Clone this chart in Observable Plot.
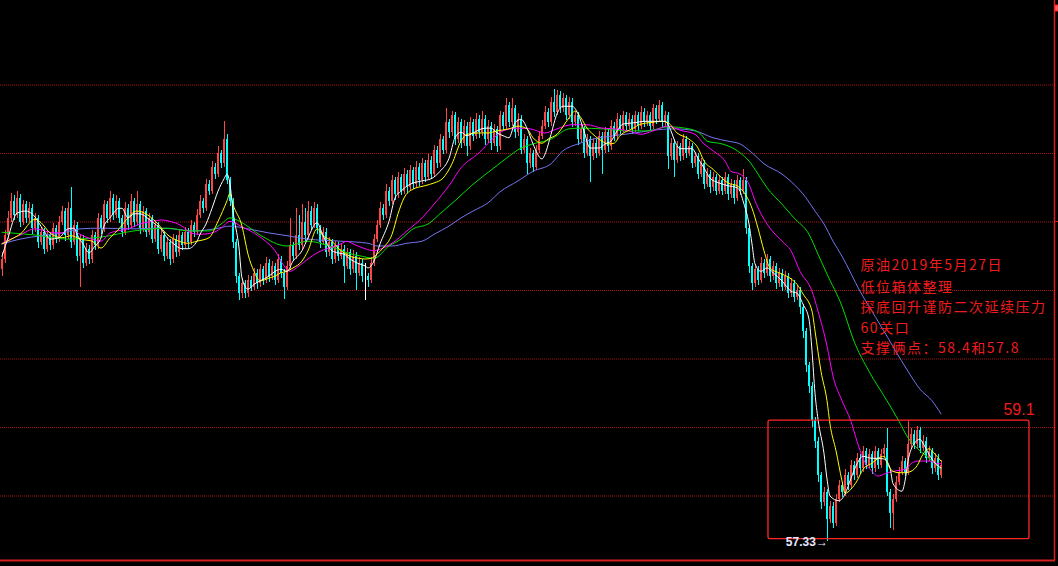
<!DOCTYPE html>
<html><head><meta charset="utf-8">
<script src="https://cdn.jsdelivr.net/npm/d3@7"></script>
<script src="https://cdn.jsdelivr.net/npm/@observablehq/plot@0.6"></script>
<style>
html,body{margin:0;padding:0;background:#000;}
#chart{width:1058px;height:566px;overflow:hidden;background:#000;}
</style></head><body><div id="chart"></div>
<script>
// ---- candle data (hourly crude oil), index = candle position ----
const opens = [61.30,61.45,61.80,62.05,62.30,62.10,62.35,62.00,62.25,62.05,
62.20,61.90,62.05,61.70,61.85,61.60,61.80,61.65,61.90,61.75,
62.00,62.15,61.80,62.20,61.70,61.95,61.50,61.75,61.40,61.60,
61.45,61.80,61.65,62.05,61.90,62.25,62.05,62.35,62.10,62.30,
62.05,61.85,62.20,61.95,62.30,62.00,62.25,61.90,62.15,61.85,
62.05,61.75,61.95,61.60,61.80,61.50,61.70,61.45,61.75,61.55,
61.80,61.65,61.85,61.70,61.95,61.85,62.10,62.30,62.20,62.55,
62.45,62.80,62.70,63.00,62.85,63.20,62.60,62.30,61.70,61.20,
60.95,61.10,60.95,61.15,61.05,61.25,61.10,61.30,61.15,61.40,
61.20,61.35,61.15,61.45,61.25,61.05,61.35,61.65,61.50,61.80,
61.65,62.00,61.80,62.15,61.95,62.20,61.90,61.70,61.85,61.55,
61.70,61.45,61.65,61.50,61.60,61.35,61.55,61.30,61.50,61.25,
61.40,61.20,61.20,61.15,61.40,61.75,61.95,62.20,62.10,62.45,
62.30,62.60,62.40,62.65,62.45,62.70,62.50,62.75,62.55,62.80,
62.60,62.85,62.65,62.90,62.70,63.05,62.85,63.20,63.05,63.45,
63.30,63.55,63.20,63.45,63.15,63.40,63.10,63.45,63.25,63.50,
63.30,63.50,63.20,63.40,63.15,63.35,63.10,63.55,63.40,63.70,
63.45,63.65,63.30,63.50,63.05,63.20,62.85,63.00,62.80,63.05,
63.25,63.40,63.60,63.45,63.75,63.60,63.85,63.65,63.80,63.55,
63.75,63.45,63.55,63.20,63.35,63.00,63.20,62.95,63.15,63.00,
63.25,63.05,63.30,63.10,63.40,63.25,63.50,63.35,63.55,63.40,
63.50,63.35,63.55,63.40,63.60,63.45,63.55,63.40,63.65,63.50,
63.70,63.45,63.55,62.95,63.15,62.90,63.10,62.95,63.20,63.00,
63.10,62.85,62.95,62.70,62.85,62.55,62.70,62.50,62.65,62.45,
62.60,62.45,62.65,62.40,62.55,62.35,62.60,62.45,62.60,61.90,
61.35,61.10,61.30,61.15,61.40,61.25,61.45,61.20,61.35,61.10,
61.25,61.05,61.20,60.95,61.10,60.90,61.00,60.75,60.40,59.90,
59.60,59.10,58.80,58.30,57.90,58.05,57.65,57.85,57.60,57.95,
58.15,58.05,58.30,58.15,58.45,58.30,58.55,58.40,58.65,58.45,
58.60,58.40,58.65,58.45,58.60,58.70,58.05,57.75,57.95,58.20,
58.35,58.50,58.35,58.75,58.90,58.75,58.95,58.70,58.80,58.55,
58.65,58.40,58.55,58.30];
const highs = [61.55,61.88,62.15,62.42,62.38,62.45,62.40,62.32,62.30,62.28,
62.25,62.12,62.10,61.92,61.90,61.88,61.85,61.98,61.95,62.08,
62.22,62.20,62.28,62.50,62.02,62.00,61.82,61.80,61.68,61.65,
61.88,61.85,62.12,62.10,62.32,62.30,62.45,62.40,62.38,62.35,
62.10,62.28,62.25,62.40,62.35,62.45,62.30,62.22,62.20,62.12,
62.10,62.02,62.00,61.88,61.85,61.78,61.75,61.82,61.80,61.88,
61.85,61.92,61.90,62.02,62.00,62.18,62.38,62.35,62.62,62.60,
62.88,62.85,63.10,63.05,63.47,63.28,62.65,62.35,61.75,61.25,
61.18,61.15,61.22,61.20,61.32,61.30,61.38,61.35,61.48,61.45,
61.42,61.40,61.52,61.50,61.30,61.42,62.05,61.70,62.20,62.10,
62.25,62.20,62.30,62.22,62.28,62.25,61.95,61.92,61.90,61.78,
61.75,61.72,61.70,61.68,61.65,61.62,61.60,61.58,61.55,61.48,
61.45,61.40,61.25,61.48,61.82,62.02,62.28,62.25,62.55,62.50,
62.68,62.65,62.72,62.70,62.78,62.75,62.82,62.80,62.88,62.85,
62.92,62.90,62.98,62.95,63.12,63.10,63.28,63.25,63.66,63.50,
63.62,63.60,63.52,63.50,63.48,63.45,63.52,63.50,63.58,63.55,
63.62,63.55,63.48,63.45,63.42,63.40,63.62,63.60,63.81,63.75,
63.80,63.70,63.58,63.55,63.28,63.25,63.08,63.05,63.12,63.32,
63.48,63.68,63.65,63.82,63.94,63.92,63.90,63.88,63.85,63.82,
63.80,63.62,63.60,63.42,63.40,63.28,63.25,63.22,63.20,63.32,
63.30,63.38,63.35,63.48,63.45,63.58,63.55,63.62,63.60,63.58,
63.55,63.62,63.60,63.68,63.65,63.62,63.60,63.72,63.70,63.77,
63.75,63.62,63.60,63.22,63.20,63.18,63.15,63.28,63.25,63.18,
63.15,63.02,63.00,62.92,62.90,62.78,62.75,62.72,62.70,62.68,
62.65,62.72,62.70,62.62,62.60,62.68,62.65,62.77,62.65,61.95,
61.40,61.38,61.35,61.48,61.45,61.52,61.50,61.42,61.40,61.32,
61.30,61.28,61.25,61.18,61.15,61.08,61.05,60.80,60.45,59.95,
59.65,59.15,58.85,58.35,58.12,58.10,57.92,57.90,58.02,58.22,
58.20,58.38,58.35,58.52,58.50,58.62,58.60,58.72,58.70,58.68,
58.65,58.72,58.70,58.68,58.75,58.98,58.10,58.02,58.28,58.42,
58.58,58.55,59.10,58.98,58.95,59.02,59.00,58.88,58.85,58.72,
58.70,58.62,58.60,58.52];
const lows = [61.20,61.40,61.75,62.00,62.02,62.05,61.92,61.95,61.98,62.00,
61.82,61.85,61.62,61.65,61.52,61.55,61.58,61.60,61.68,61.70,
61.95,61.72,61.75,61.62,61.65,61.42,61.05,61.32,61.35,61.38,
61.40,61.58,61.60,61.82,61.85,61.98,62.00,62.02,62.05,61.98,
61.78,61.80,61.88,61.90,61.92,61.95,61.82,61.85,61.78,61.80,
61.68,61.70,61.52,61.55,61.42,61.45,61.36,61.40,61.48,61.50,
61.58,61.60,61.62,61.65,61.78,61.80,62.05,62.12,62.15,62.38,
62.40,62.62,62.65,62.78,62.80,62.55,62.22,61.62,61.10,60.85,
60.88,60.88,60.90,60.98,61.00,61.02,61.05,61.08,61.10,61.12,
61.15,61.08,61.10,61.18,60.87,61.00,61.30,61.42,61.45,61.58,
61.60,61.72,61.75,61.88,61.90,61.82,61.62,61.65,61.48,61.50,
61.38,61.40,61.42,61.45,61.10,61.30,61.22,61.25,61.00,61.20,
61.12,60.85,61.05,61.10,61.35,61.70,61.90,62.02,62.05,62.22,
62.25,62.32,62.35,62.38,62.40,62.42,62.45,62.48,62.50,62.52,
62.55,62.58,62.60,62.62,62.65,62.78,62.80,62.98,63.00,63.22,
63.25,63.12,63.15,63.08,63.10,62.95,63.05,63.18,63.20,63.22,
63.25,63.12,63.15,63.05,63.10,63.02,63.05,63.32,63.35,63.38,
63.40,63.22,63.25,62.98,63.00,62.70,62.78,62.72,62.75,63.00,
63.20,63.35,63.38,63.40,63.52,63.55,63.58,63.60,63.48,63.50,
63.38,63.40,63.12,63.15,62.92,62.95,62.57,62.90,62.92,62.95,
62.70,63.00,63.02,63.05,63.18,63.20,63.28,63.30,63.32,63.35,
63.28,63.30,63.32,63.35,63.38,63.40,63.32,63.35,63.42,63.45,
63.38,63.40,62.77,62.90,62.65,62.85,62.88,62.90,62.92,62.95,
62.78,62.80,62.62,62.65,62.48,62.50,62.42,62.45,62.38,62.40,
62.38,62.40,62.32,62.35,62.25,62.30,62.38,62.40,61.82,61.25,
61.00,61.05,61.08,61.10,61.18,61.20,61.12,61.15,61.02,61.05,
60.98,61.00,60.88,60.90,60.82,60.85,60.65,60.30,59.80,59.50,
59.00,58.70,58.20,57.80,57.85,57.33,57.60,57.52,57.55,57.90,
57.98,58.00,58.08,58.10,58.22,58.25,58.32,58.35,58.38,58.40,
58.32,58.35,58.38,58.40,58.55,58.00,57.53,57.50,57.90,58.15,
58.30,58.28,58.30,58.70,58.68,58.70,58.62,58.65,58.48,58.50,
58.32,58.35,58.22,58.25];
const closes = [61.45,61.80,62.05,62.30,62.10,62.35,62.00,62.25,62.05,62.20,
61.90,62.05,61.70,61.85,61.60,61.80,61.65,61.90,61.75,62.00,
62.15,61.80,62.20,61.70,61.95,61.50,61.75,61.40,61.60,61.45,
61.80,61.65,62.05,61.90,62.25,62.05,62.35,62.10,62.30,62.05,
61.85,62.20,61.95,62.30,62.00,62.25,61.90,62.15,61.85,62.05,
61.75,61.95,61.60,61.80,61.50,61.70,61.45,61.75,61.55,61.80,
61.65,61.85,61.70,61.95,61.85,62.10,62.30,62.20,62.55,62.45,
62.80,62.70,63.00,62.85,63.20,62.60,62.30,61.70,61.20,60.95,
61.10,60.95,61.15,61.05,61.25,61.10,61.30,61.15,61.40,61.20,
61.35,61.15,61.45,61.25,61.05,61.35,61.65,61.50,61.80,61.65,
62.00,61.80,62.15,61.95,62.20,61.90,61.70,61.85,61.55,61.70,
61.45,61.65,61.50,61.60,61.35,61.55,61.30,61.50,61.25,61.40,
61.20,61.20,61.15,61.40,61.75,61.95,62.20,62.10,62.45,62.30,
62.60,62.40,62.65,62.45,62.70,62.50,62.75,62.55,62.80,62.60,
62.85,62.65,62.90,62.70,63.05,62.85,63.20,63.05,63.45,63.30,
63.55,63.20,63.45,63.15,63.40,63.10,63.45,63.25,63.50,63.30,
63.50,63.20,63.40,63.15,63.35,63.10,63.55,63.40,63.70,63.45,
63.65,63.30,63.50,63.05,63.20,62.85,63.00,62.80,63.05,63.25,
63.40,63.60,63.45,63.75,63.60,63.85,63.65,63.80,63.55,63.75,
63.45,63.55,63.20,63.35,63.00,63.20,62.95,63.15,63.00,63.25,
63.05,63.30,63.10,63.40,63.25,63.50,63.35,63.55,63.40,63.50,
63.35,63.55,63.40,63.60,63.45,63.55,63.40,63.65,63.50,63.70,
63.45,63.55,62.95,63.15,62.90,63.10,62.95,63.20,63.00,63.10,
62.85,62.95,62.70,62.85,62.55,62.70,62.50,62.65,62.45,62.60,
62.45,62.65,62.40,62.55,62.35,62.60,62.45,62.60,61.90,61.35,
61.10,61.30,61.15,61.40,61.25,61.45,61.20,61.35,61.10,61.25,
61.05,61.20,60.95,61.10,60.90,61.00,60.75,60.40,59.90,59.60,
59.10,58.80,58.30,57.90,58.05,57.65,57.85,57.60,57.95,58.15,
58.05,58.30,58.15,58.45,58.30,58.55,58.40,58.65,58.45,58.60,
58.40,58.65,58.45,58.60,58.70,58.05,57.75,57.95,58.20,58.35,
58.50,58.35,58.75,58.90,58.75,58.95,58.70,58.80,58.55,58.65,
58.40,58.55,58.30,58.45];

// ---- moving averages (candle index, price) ----
const ma5Idx = [0,2,5,8,10,14,16,19,22,24,25,27,29,31,33,34,36,39,40,42,44,46,49,51,53,55,57,60,62,65,66,68,70,72,74,75,76,77,79,80,82,84,86,89,91,93,95,97,100,102,105,107,110,112,114,116,119,121,122,124,126,129,131,133,136,140,143,146,149,151,153,155,157,161,163,165,167,169,171,173,175,177,180,181,183,185,187,190,192,194,196,199,201,203,205,207,211,214,217,221,223,224,226,230,232,234,236,239,242,245,246,247,249,250,251,253,255,257,260,263,265,267,269,270,271,272,274,275,276,279,281,283,285,287,290,292,294,296,297,300,301,302,304,306,307,309,311,313];
const ma5 = [61.50,61.77,62.13,62.16,62.12,61.87,61.75,61.77,61.90,61.91,61.82,61.68,61.55,61.65,61.77,61.94,62.06,62.20,62.20,62.06,62.12,62.12,62.04,61.97,61.90,61.77,61.69,61.61,61.61,61.72,61.82,61.97,62.20,62.45,62.63,62.70,62.55,62.16,61.62,61.18,61.02,61.09,61.14,61.21,61.28,61.31,61.28,61.43,61.58,61.77,61.99,61.80,61.58,61.55,61.53,61.46,61.39,61.36,61.33,61.43,61.68,62.01,62.35,62.45,62.55,62.60,62.63,62.74,62.93,63.23,63.31,63.26,63.30,63.37,63.37,63.30,63.26,63.23,63.45,63.50,63.37,63.14,62.92,62.99,63.28,63.58,63.69,63.69,63.58,63.33,63.08,63.08,63.14,63.18,63.33,63.43,63.45,63.47,63.47,63.47,63.33,63.21,63.07,63.07,62.93,62.79,62.64,62.57,62.53,62.50,62.45,62.31,61.97,61.68,61.39,61.28,61.33,61.26,61.14,60.99,60.96,60.80,60.58,60.12,59.50,59.12,58.62,58.25,58.00,57.93,58.03,58.26,58.47,58.58,58.55,58.55,58.54,58.41,58.18,58.07,58.22,58.51,58.76,58.83,58.77,58.61,58.48,58.41];
const ma10Idx = [0,4,6,11,13,16,20,23,26,30,33,36,39,41,45,49,52,55,59,62,65,69,72,75,76,77,80,82,84,86,89,91,93,95,97,100,102,105,107,110,112,114,116,119,121,123,125,127,130,132,134,137,141,144,147,150,153,155,159,162,165,169,172,175,177,180,182,185,189,191,193,195,197,200,202,204,206,210,213,216,220,222,225,229,232,234,237,240,242,245,247,250,252,254,256,260,263,265,267,270,271,273,275,276,278,280,281,283,285,287,290,292,294,295,297,299,301,303,305,307,309,311,313];
const ma10 = [61.68,61.77,61.82,62.04,61.99,61.84,61.77,61.80,61.75,61.72,61.62,61.77,61.90,62.01,62.16,62.09,61.97,61.82,61.72,61.69,61.72,61.77,62.01,62.31,62.42,62.26,61.94,61.53,61.28,61.14,61.18,61.21,61.26,61.28,61.33,61.43,61.58,61.90,61.80,61.72,61.62,61.55,61.50,61.47,61.46,61.47,61.53,61.62,61.82,62.12,62.35,62.48,62.53,62.57,62.64,62.85,63.18,63.28,63.30,63.30,63.33,63.36,63.40,63.36,63.23,63.15,63.21,63.28,63.52,63.62,63.52,63.37,63.28,63.18,63.14,63.15,63.26,63.36,63.43,63.45,63.47,63.45,63.30,63.21,63.08,62.89,62.77,62.64,62.57,62.53,62.45,62.20,61.91,61.58,61.33,61.24,61.17,61.09,60.95,60.70,60.41,59.82,59.39,59.05,58.66,58.22,58.04,58.10,58.22,58.39,58.48,58.55,58.58,58.48,58.36,58.34,58.34,58.36,58.44,58.61,58.69,58.61,58.51];
const ma20Idx = [0,6,11,16,20,23,26,30,33,36,42,46,50,53,56,60,63,66,70,73,76,80,84,87,91,94,96,99,102,105,109,113,115,117,121,124,127,131,135,140,144,149,153,159,164,167,172,176,181,185,190,195,200,204,209,213,217,222,226,231,234,237,241,243,246,249,251,253,256,260,263,266,270,272,275,277,280,283,285,287,290,292,294,297,301,303,305,309,312,313];
const ma20 = [61.69,61.81,61.90,61.85,61.84,61.91,61.82,61.75,61.72,61.84,61.90,61.97,62.01,62.03,62.01,61.94,61.84,61.82,61.84,61.91,62.01,61.93,61.84,61.75,61.58,61.36,61.28,61.36,61.46,61.55,61.62,61.68,61.72,61.68,61.61,61.58,61.62,61.72,61.87,62.06,62.26,62.53,62.79,63.01,63.23,63.33,63.37,63.36,63.30,63.36,63.42,63.42,63.37,63.36,63.33,63.28,63.33,63.40,63.34,63.28,63.14,63.04,62.89,62.74,62.70,62.55,62.31,62.12,61.91,61.72,61.58,61.28,60.99,60.70,60.19,59.75,59.39,59.09,58.80,58.55,58.36,58.29,58.32,58.36,58.39,58.47,58.51,58.51,58.47,58.47];
const ma40Idx = [0,11,22,33,44,50,55,62,69,73,76,80,86,95,102,106,111,115,120,124,129,133,137,142,146,151,157,164,169,173,177,183,189,193,200,209,215,222,229,233,235,240,244,246,249,252,255,260,264,269,272,275,280,284,289,295,299,302,305,309,311,313];
const ma40 = [61.85,61.81,61.75,61.78,61.87,61.90,61.91,61.87,61.87,61.97,62.06,61.99,61.81,61.65,61.72,61.69,61.62,61.55,61.50,61.47,61.65,61.75,61.90,61.97,62.12,62.31,62.55,62.79,62.96,63.08,63.14,63.21,63.36,63.37,63.36,63.33,63.33,63.39,63.36,63.28,63.18,63.14,63.07,63.01,62.89,62.70,62.50,62.26,62.06,61.82,61.53,61.24,60.77,60.26,59.82,59.39,59.09,58.85,58.70,58.55,58.47,58.39];
const ma60Idx = [0,6,13,20,26,33,44,52,57,64,71,76,82,89,95,102,113,122,125,130,135,140,144,149,153,157,162,166,172,177,183,187,192,197,204,211,217,224,231,237,242,246,250,254,260,264,267,271,274,277,280,286,293,302,306,310,313];
const ma60 = [61.68,61.75,61.80,61.84,61.90,61.91,61.90,61.91,61.90,61.87,61.90,61.94,61.90,61.84,61.80,61.75,61.72,61.69,61.65,61.65,61.69,61.72,61.82,61.94,62.06,62.16,62.28,62.44,62.60,62.74,62.85,63.04,63.14,63.21,63.26,63.30,63.34,63.36,63.33,63.23,63.18,63.14,63.01,62.85,62.70,62.55,62.41,62.16,61.97,61.72,61.50,60.99,60.48,59.82,59.56,59.39,59.20];

// ---- price grid and annotations ----
const gridPrices = [58, 59, 60, 61, 62, 63, 64];
const noteLines = ["原油2019年5月27日", "低位箱体整理", "探底回升谨防二次延续压力", "60关口", "支撑俩点：58.4和57.8"];
const notePrices = [61.36, 61.05, 60.75, 60.45, 60.15];
const noteIdx = 286.2;
const boxIdx = [255.5, 342.5];
const boxPrice = [57.37, 59.1];
const boxLabel = "59.1", boxLabelIdx = 333.8, boxLabelPrice = 59.26;
const lowLabel = "57.33→", lowIdx = 275.3, lowPrice = 57.33;

const candles = closes.map((c, i) => ({i, o: opens[i], h: highs[i], l: lows[i], c}));
const candleColor = d => d.c > d.o ? "#ff4646" : d.c < d.o ? "#00ffff" : "#ffffff";
const maLine = (idx, val, color) => Plot.line(val, {x: idx, y: val, stroke: color, strokeWidth: 1, curve: "monotone-x"});
const red = "#ee1c1c";

const chart = Plot.plot({
  width: 1058, height: 566,
  marginTop: 0, marginLeft: 0, marginRight: 4, marginBottom: 6,
  style: {background: "#000", overflow: "visible"},
  x: {domain: [0, closes.length - 1], range: [1.5, 940.5], axis: null},
  y: {domain: [58, 64], range: [495.5, 84.5], axis: null},
  color: {type: "identity"},
  marks: [
    Plot.ruleY(gridPrices, {stroke: "#a81414", strokeWidth: 1, strokeDasharray: "1,1"}),
    Plot.ruleX(candles, {x: "i", y1: "l", y2: "h", stroke: candleColor, strokeWidth: 1, shapeRendering: "crispEdges"}),
    Plot.ruleX(candles, {x: "i", y1: "o", y2: "c", stroke: candleColor, strokeWidth: 2, shapeRendering: "crispEdges"}),
    maLine(ma60Idx, ma60, "#7474f2"),
    maLine(ma40Idx, ma40, "#00dd00"),
    maLine(ma20Idx, ma20, "#ff00ff"),
    maLine(ma10Idx, ma10, "#ffff00"),
    maLine(ma5Idx, ma5, "#ffffff"),
    Plot.rect([0], {x1: boxIdx[0], x2: boxIdx[1], y1: boxPrice[0], y2: boxPrice[1], fill: "none", stroke: "#ff2626", strokeWidth: 1.3, rx: 2}),
    Plot.text(noteLines, {x: noteIdx, y: notePrices, textAnchor: "start", fill: red, fontSize: 14, fontFamily: "'Noto Sans CJK SC', sans-serif"}),
    Plot.text([boxLabel], {x: boxLabelIdx, y: boxLabelPrice, textAnchor: "start", fill: red, fontSize: 16, fontFamily: "'Liberation Sans', Arial, sans-serif"}),
    Plot.text([lowLabel], {x: lowIdx, y: lowPrice, textAnchor: "end", fill: "#e6e6ff", fontSize: 12, fontWeight: "bold", fontFamily: "'Liberation Sans', Arial, sans-serif"})
  ]
});

// widen the note lettering to the reference's character pitch
d3.select(chart).selectAll("text").filter(function() { return noteLines.includes(this.textContent); }).attr("letter-spacing", "1.5px");

// chart frame (right price-axis border, bottom border) and right tick
const svg = d3.select(chart);
const fw = 1058 - 4, fh = 566 - 6;
svg.append("line").attr("x1", fw + 0.5).attr("x2", fw + 0.5).attr("y1", 0).attr("y2", fh).attr("stroke", "#d81e1e").attr("stroke-width", 1.5);
svg.append("line").attr("x1", 0).attr("x2", fw + 1).attr("y1", fh + 0.5).attr("y2", fh + 0.5).attr("stroke", "#d81e1e").attr("stroke-width", 2);
const ty = chart.scale("y").apply(62);
svg.append("line").attr("x1", fw).attr("x2", 1058).attr("y1", ty).attr("y2", ty).attr("stroke", "#d81e1e").attr("stroke-width", 1);
svg.append("rect").attr("x", fw + 1).attr("y", 5).attr("width", 3).attr("height", 6).attr("fill", "#ff7070").attr("stroke", "#ff2020").attr("stroke-width", 1);
document.getElementById("chart").appendChild(chart);
</script></body></html>
